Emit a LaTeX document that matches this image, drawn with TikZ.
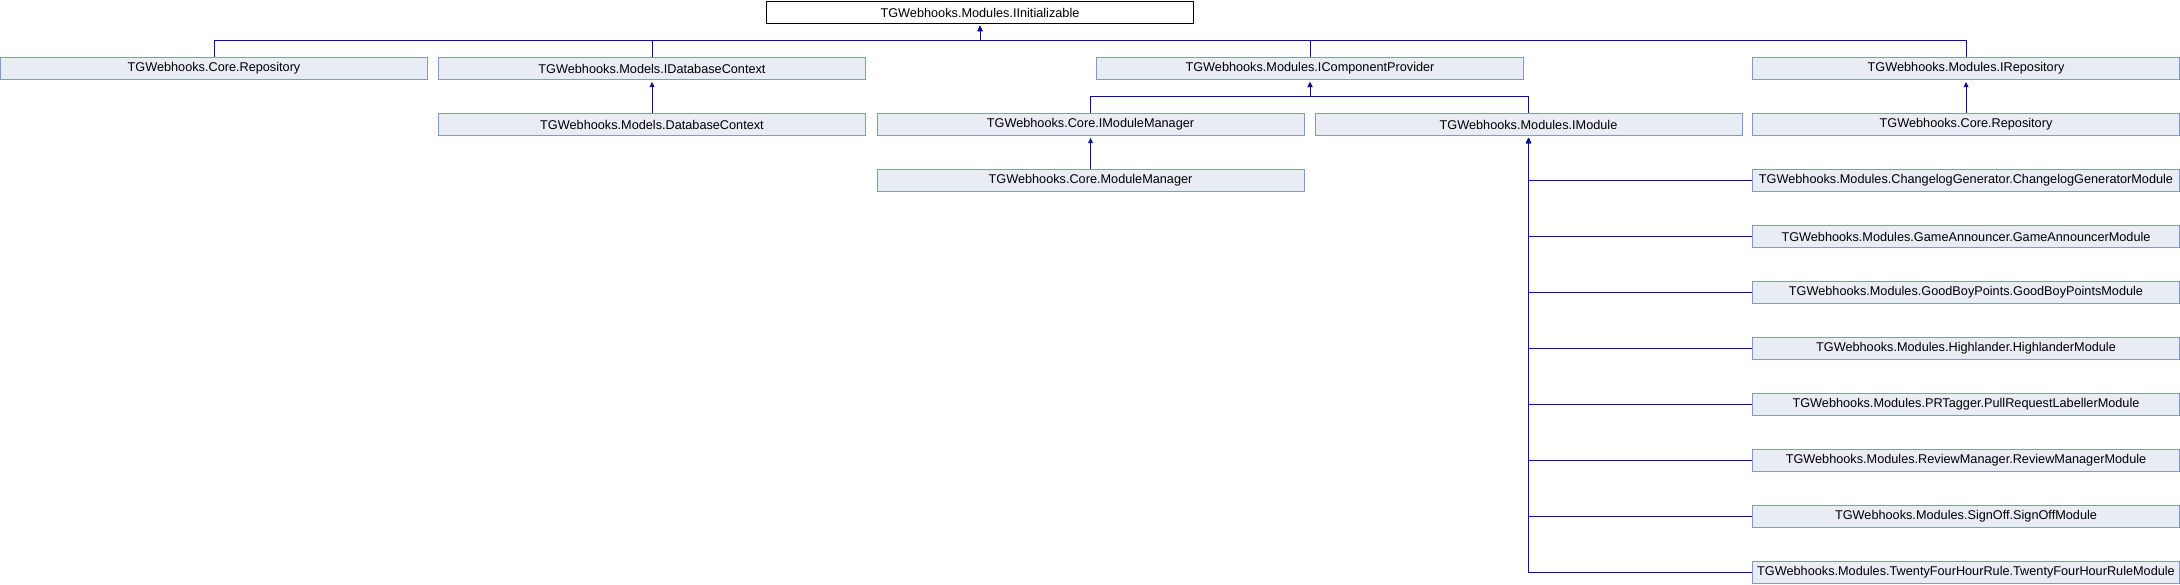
\documentclass[tikz,border=0pt]{standalone}
\usepackage{fontspec}
\setmainfont{Liberation Sans}
\usetikzlibrary{arrows.meta}
\definecolor{boxfill}{RGB}{232,236,245}
\definecolor{boxline}{RGB}{128,152,206}
\definecolor{linkblue}{RGB}{16,16,140}
\tikzset{
  cls/.style={draw=boxline, fill=boxfill, line width=0.5pt, anchor=north west,
    minimum width=213.5pt, minimum height=11.3pt, inner sep=0pt,
    font=\fontsize{6.35}{7}\selectfont},
  cur/.style={cls, draw=black, fill=white},
  link/.style={draw=linkblue, line width=0.5pt, shorten >=0.8pt,
    -{Triangle[width=2.4pt,length=2.6pt]}}
}
\begin{document}
\begin{tikzpicture}[x=0.5pt, y=-0.5pt]
		%%%%% START %%%%%
		\useasboundingbox (0, 0) rectangle (2180, 584);
		
		\node[cur] (init) at (766, 0.7) {TGWebhooks.Modules.IInitializable};
		
		% row 1
		\node[cls] (corerepoA) at (0, 56.7) {TGWebhooks.Core.Repository};
		\node[cls] (idbctx) at (438, 56.7) {TGWebhooks.Models.IDatabaseContext};
		\node[cls] (icomp) at (1096, 56.7) {TGWebhooks.Modules.IComponentProvider};
		\node[cls] (irepo) at (1752, 56.7) {TGWebhooks.Modules.IRepository};
		
		% row 2
		\node[cls] (dbctx) at (438, 112.7) {TGWebhooks.Models.DatabaseContext};
		\node[cls] (imodmgr) at (876.5, 112.7) {TGWebhooks.Core.IModuleManager};
		\node[cls] (imodule) at (1314.5, 112.7) {TGWebhooks.Modules.IModule};
		\node[cls] (corerepoB) at (1752, 112.7) {TGWebhooks.Core.Repository};
		
		\node[cls] (modmgr) at (876.5, 168.7) {TGWebhooks.Core.ModuleManager};
		
		% modules
		\node[cls] (chglog) at (1752, 168.7) {TGWebhooks.Modules.ChangelogGenerator.ChangelogGeneratorModule};
		\node[cls] (gameann) at (1752, 224.7) {TGWebhooks.Modules.GameAnnouncer.GameAnnouncerModule};
		\node[cls] (goodboy) at (1752, 280.7) {TGWebhooks.Modules.GoodBoyPoints.GoodBoyPointsModule};
		\node[cls] (highl) at (1752, 336.7) {TGWebhooks.Modules.Highlander.HighlanderModule};
		\node[cls] (prtag) at (1752, 392.7) {TGWebhooks.Modules.PRTagger.PullRequestLabellerModule};
		\node[cls] (revmgr) at (1752, 448.7) {TGWebhooks.Modules.ReviewManager.ReviewManagerModule};
		\node[cls] (signoff) at (1752, 504.7) {TGWebhooks.Modules.SignOff.SignOffModule};
		\node[cls] (tfhr) at (1752, 560.7) {TGWebhooks.Modules.TwentyFourHourRule.TwentyFourHourRuleModule};
		
		\draw[link] (corerepoA.north) -- ++(0, -16.5) -| (init.south);
		\draw[link] (idbctx.north) -- ++(0, -16.5) -| (init.south);
		\draw[link] (icomp.north) -- ++(0, -16.5) -| (init.south);
		\draw[link] (irepo.north) -- ++(0, -16.5) -| (init.south);
		
		\draw[link] (dbctx.north) -- (idbctx.south);
		\draw[link] (imodmgr.north) -- ++(0, -16.5) -| (icomp.south);
		\draw[link] (imodule.north) -- ++(0, -16.5) -| (icomp.south);
		\draw[link] (corerepoB.north) -- (irepo.south);
		\draw[link] (modmgr.north) -- (imodmgr.south);
		
		\foreach \m in {chglog, gameann, goodboy, highl, prtag, revmgr, signoff, tfhr}
		  \draw[link] (\m.west) -| (imodule.south);
		%%%%% END %%%%%
\end{tikzpicture}
\end{document}
